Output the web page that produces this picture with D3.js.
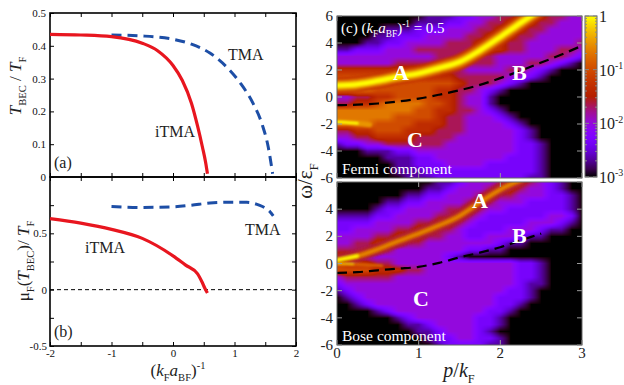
<!DOCTYPE html>
<html>
<head>
<meta charset="utf-8">
<script src="https://cdn.jsdelivr.net/npm/d3@7"></script>
<style>
  body { margin: 0; background: #fff; }
  svg { display: block; }
  text { font-family: "Liberation Serif", "Times New Roman", serif; }
</style>
</head>
<body>
<svg id="fig" width="624" height="385"></svg>
<script>
// ---- left panels: (a) T_BEC/T_F and (b) mu_F(T_BEC)/T_F vs (k_F a_BF)^-1
const itmaA_x = [-2, -1.5, -1, -0.5, -0.25, 0, 0.15, 0.3, 0.4, 0.48, 0.53, 0.56];
const itmaA_y = [0.435, 0.433, 0.428, 0.408, 0.385, 0.34, 0.295, 0.225, 0.155, 0.09, 0.045, 0.01];
const tmaA_x = [-1, -0.5, 0, 0.3, 0.6, 0.9, 1.1, 1.3, 1.45, 1.55, 1.62];
const tmaA_y = [0.433, 0.43, 0.42, 0.405, 0.378, 0.33, 0.285, 0.225, 0.16, 0.09, 0.01];
const itmaB_x = [-2, -1.5, -1, -0.5, 0, 0.2, 0.4, 0.47, 0.52, 0.56];
const itmaB_y = [0.63, 0.59, 0.535, 0.455, 0.3, 0.22, 0.14, 0.07, 0.01, -0.03];
const tmaB_x = [-1, -0.5, 0, 0.3, 0.6, 0.9, 1.2, 1.4, 1.5, 1.58, 1.63];
const tmaB_y = [0.738, 0.73, 0.735, 0.75, 0.77, 0.776, 0.775, 0.75, 0.725, 0.69, 0.655];

const xTicksL = [-2, -1.5, -1, -0.5, 0, 0.5, 1, 1.5, 2];
const xLabelsL = [-2, -1, 0, 1, 2];
const yTicksA = [0, 0.1, 0.2, 0.3, 0.4, 0.5];
const yTicksB = [-0.5, -0.25, 0, 0.25, 0.5, 0.75, 1];
const yLabelsB = [-0.5, 0, 0.5];

// ---- right panels: diffuse spectral weight, rows omega = 6 ... -6, columns p = 0 ... 3
// each digit = log10 intensity in 1/3 decade steps: 0 -> 1e-3, 9 -> 1
const pCols = [0, 0.125, 0.25, 0.375, 0.5, 0.625, 0.75, 0.875, 1, 1.125, 1.25, 1.375, 1.5,
               1.625, 1.75, 1.875, 2, 2.125, 2.25, 2.375, 2.5, 2.625, 2.75, 2.875, 3];
const wRows = [6, 5.5, 5, 4.5, 4, 3.5, 3, 2.5, 2, 1.5, 1, 0.5, 0,
               -0.5, -1, -1.5, -2, -2.5, -3, -3.5, -4, -4.5, -5, -5.5, -6];
const fermiMap = [
  "0000000001112233445554433",
  "0000000011122334455544333",
  "0000011122233344555443333",
  "0000112223333445554433333",
  "0001122333344455544333334",
  "1122233344444455544333443",
  "3333333333444444333334432",
  "3333334444444444333443210",
  "5555555555444333344321000",
  "6666666665554444433210000",
  "6666666666665444321000000",
  "7777666666554432100000000",
  "3344556666554331000000000",
  "4455677776654331000000000",
  "7777777766554432100000000",
  "7777776666544333210000000",
  "7777666655544333321000000",
  "4455666555444333332100000",
  "3344555544443333332100000",
  "1223344444433333332210000",
  "0001112233333333332210000",
  "0000011122333333322210000",
  "0000001122233332222210000",
  "0000001112222222222210000",
  "0000000111222222222110000"
];
const boseMap = [
  "0000000000112333455432100",
  "0000000001123334554332100",
  "0000000112233345443332210",
  "0000011223333454333222210",
  "0000122333344543322222210",
  "1111223333445432222223320",
  "2222333344554322222333210",
  "2233334455443222233321100",
  "3333445554433223332110000",
  "3344555443333333211000000",
  "4444443333333221100000000",
  "5543333333321000000000000",
  "6555443333333333332210000",
  "6666555443333333332210000",
  "3444443333333333332210000",
  "2333333333333333332110000",
  "1233333333333333322100000",
  "0123333333333333222100000",
  "0012333333333333221000000",
  "0000123333333332210000000",
  "0000001233333322100000000",
  "0000000112333322100000000",
  "0000000011233321000000000",
  "0000000001223322100000000",
  "0000000000122221100000000"
];
// sharp branches (ridges) drawn on top of the diffuse maps
const fermiA_p = [0, 0.25, 0.5, 0.75, 1, 1.25, 1.5, 1.75, 2, 2.25, 2.45];
const fermiA_w = [0.85, 0.95, 1.2, 1.5, 1.75, 2.15, 2.6, 3.45, 4.45, 5.5, 6.3];
const fermiStreak_p = [0, 0.12, 0.25, 0.4];
const fermiStreak_w = [-1.85, -1.88, -1.95, -2.05];
const boseA_p = [0, 0.25, 0.5, 0.75, 1, 1.25, 1.5, 1.75, 2, 2.25];
const boseA_w = [0.25, 0.55, 1.05, 1.65, 2.2, 2.8, 3.5, 4.5, 5.45, 6.15];
const boseLow_p = [0, 0.2, 0.4, 0.55];
const boseLow_w = [-0.02, -0.06, -0.12, -0.16];
const fermiDashP = [0, 0.25, 0.5, 0.75, 1, 1.25, 1.5, 1.75, 2, 2.25, 2.5, 2.75, 3];
const fermiDashW = [-0.6, -0.57, -0.48, -0.33, -0.12, 0.17, 0.5, 0.9, 1.4, 1.95, 2.55, 3.15, 3.8];
const boseDashP = [0, 0.25, 0.5, 0.75, 1, 1.25, 1.5, 1.75, 2, 2.25, 2.5];
const boseDashW = [-0.7, -0.64, -0.5, -0.38, -0.25, 0.05, 0.45, 0.8, 1.2, 1.7, 2.2];

const pTicks = [0, 1, 2, 3];
const wTicks = [-6, -4, -2, 0, 2, 4, 6];
const cbTicks = [1e-3, 1e-2, 1e-1, 1];

const RED = '#e8161f', BLUE = '#1d4ea6';
const svg = d3.select('#fig');
const defs = svg.append('defs');
defs.append('filter').attr('id', 'soft').attr('x', '-20%').attr('y', '-20%')
  .attr('width', '140%').attr('height', '140%')
  .append('feGaussianBlur').attr('stdDeviation', 1.3);

// rich text: parts of {t, i (italic), s: 'sub'|'sup'}
function rich(sel, parts, size) {
  let prev = 0;
  parts.forEach(p => {
    const off = p.s === 'sub' ? 0.28 : p.s === 'sup' ? -0.42 : 0;
    const t = sel.append('tspan').text(p.t)
      .attr('dy', ((off - prev) * size).toFixed(2))
      .attr('font-size', p.s ? size * 0.62 : size);
    if (p.i) t.attr('font-style', 'italic');
    prev = off;
  });
  return sel;
}

// ================= left panels
const xL = d3.scaleLinear().domain([-2, 2]).range([50, 296]);
const yA = d3.scaleLinear().domain([0, 0.5]).range([177, 13]);
const yB = d3.scaleLinear().domain([-0.5, 1]).range([346, 177]);
const num = d => String(+d.toFixed(2));

function leftPanel(y, yTicks, yLabels, showX) {
  const g = svg.append('g');
  const [b, t] = y.range();
  const tick = 4;
  g.append('g').attr('transform', `translate(0,${b})`)
    .call(d3.axisBottom(xL).tickValues(xTicksL).tickSize(-tick).tickSizeOuter(0)
      .tickFormat(d => showX && xLabelsL.includes(d) ? num(d) : ''));
  g.append('g').attr('transform', `translate(0,${t})`)
    .call(d3.axisTop(xL).tickValues(xTicksL).tickSize(-tick).tickSizeOuter(0).tickFormat(''));
  g.append('g').attr('transform', `translate(${xL.range()[0]},0)`)
    .call(d3.axisLeft(y).tickValues(yTicks).tickSize(-tick).tickSizeOuter(0)
      .tickFormat(d => yLabels.includes(d) ? num(d) : ''));
  g.append('g').attr('transform', `translate(${xL.range()[1]},0)`)
    .call(d3.axisRight(y).tickValues(yTicks).tickSize(-tick).tickSizeOuter(0).tickFormat(''));
  g.selectAll('.domain').remove();
  g.selectAll('.tick line').attr('stroke', '#000').attr('stroke-width', 1);
  g.selectAll('.tick text').attr('font-family', '"Liberation Serif", serif')
    .attr('font-size', 11).attr('fill', '#111');
  g.append('rect').attr('x', xL.range()[0]).attr('y', t)
    .attr('width', xL.range()[1] - xL.range()[0]).attr('height', b - t)
    .attr('fill', 'none').attr('stroke', '#000').attr('stroke-width', 1.6);
  return g;
}

const gA = leftPanel(yA, yTicksA, yTicksA, false);
gA.selectAll('.tick text').attr('dx', -1);
const gB = leftPanel(yB, yTicksB, yLabelsB, true);

const lineA = d3.line().x(d => xL(d[0])).y(d => yA(d[1])).curve(d3.curveMonotoneX);
const lineB = d3.line().x(d => xL(d[0])).y(d => yB(d[1])).curve(d3.curveMonotoneX);

gB.append('line').attr('x1', xL(-2)).attr('x2', xL(2)).attr('y1', yB(0)).attr('y2', yB(0))
  .attr('stroke', '#000').attr('stroke-width', 1).attr('stroke-dasharray', '4,3');

gA.append('path').datum(d3.zip(tmaA_x, tmaA_y)).attr('d', lineA).attr('fill', 'none')
  .attr('stroke', BLUE).attr('stroke-width', 3).attr('stroke-dasharray', '10,6');
gA.append('path').datum(d3.zip(itmaA_x, itmaA_y)).attr('d', lineA).attr('fill', 'none')
  .attr('stroke', RED).attr('stroke-width', 3.2);
gB.append('path').datum(d3.zip(tmaB_x, tmaB_y)).attr('d', lineB).attr('fill', 'none')
  .attr('stroke', BLUE).attr('stroke-width', 3).attr('stroke-dasharray', '10,6');
gB.append('path').datum(d3.zip(itmaB_x, itmaB_y)).attr('d', lineB).attr('fill', 'none')
  .attr('stroke', RED).attr('stroke-width', 3.2);

function label(x, y, s, size, opts = {}) {
  return svg.append('text').attr('x', x).attr('y', y).attr('font-size', size)
    .attr('fill', opts.fill || '#222').attr('font-weight', opts.bold ? 'bold' : null)
    .attr('text-anchor', opts.anchor || 'start').text(s);
}
label(228, 60, 'TMA', 16);
label(155, 137, 'iTMA', 16);
label(54, 168, '(a)', 16);
label(85, 253, 'iTMA', 16);
label(245, 235, 'TMA', 16);
label(54, 337, '(b)', 16);

rich(svg.append('text').attr('transform', 'translate(21,86) rotate(-90)')
  .attr('text-anchor', 'middle').attr('fill', '#222'),
  [{t: 'T', i: 1}, {t: 'BEC', s: 'sub'}, {t: ' / '}, {t: 'T', i: 1}, {t: 'F', s: 'sub'}], 17);
rich(svg.append('text').attr('transform', 'translate(29,261) rotate(-90)')
  .attr('text-anchor', 'middle').attr('fill', '#222'),
  [{t: 'μ'}, {t: 'F', s: 'sub'}, {t: '('}, {t: 'T', i: 1}, {t: 'BEC', s: 'sub'}, {t: ')/ '},
   {t: 'T', i: 1}, {t: 'F', s: 'sub'}], 17);
rich(svg.append('text').attr('x', 178).attr('y', 376).attr('text-anchor', 'middle').attr('fill', '#222'),
  [{t: '('}, {t: 'k', i: 1}, {t: 'F', s: 'sub'}, {t: 'a', i: 1}, {t: 'BF', s: 'sub'}, {t: ')'},
   {t: '-1', s: 'sup'}], 17);

// ================= right panels (heat maps)
const xR = d3.scaleLinear().domain([0, 3]).range([337, 582]);
const yTop = d3.scaleLinear().domain([-6, 6]).range([178, 16]);
const yBot = d3.scaleLinear().domain([-6, 6]).range([345, 182]);

// gnuplot default palette (rgbformulae 7,5,15)
function gnu(t) {
  return [Math.sqrt(t) * 255, Math.pow(t, 3) * 255, Math.max(0, Math.sin(2 * Math.PI * t)) * 255];
}
const colorScale = d3.scaleSequentialLog(gnu).domain([1e-3, 1]).clamp(true);
const levelToValue = L => Math.pow(10, -3 + L / 3);
const levelColor = L => { const c = colorScale(levelToValue(L)); return d3.rgb(c[0], c[1], c[2]).formatHex(); };

let clipId = 0;
function heatPanel(rows, y, ridges, dashP, dashW) {
  const g = svg.append('g');
  const grid = rows.map(r => r.split('').map(Number));
  const nR = wRows.length, nC = pCols.length;
  const ci = d3.scaleLinear().domain([pCols[0], pCols[nC - 1]]).range([0, nC - 1]).clamp(true);
  const ri = d3.scaleLinear().domain([wRows[0], wRows[nR - 1]]).range([0, nR - 1]).clamp(true);
  const [x0, x1] = xR.range();
  const [y1, y0] = y.range();
  const W = Math.round(x1 - x0), H = Math.round(y1 - y0);
  const cv = document.createElement('canvas');
  cv.width = W; cv.height = H;
  const ctx = cv.getContext('2d');
  const img = ctx.createImageData(W, H);
  const at = (r, c) => (grid[r] && grid[r][c] !== undefined) ? grid[r][c] : 0;
  for (let py = 0; py < H; py++) {
    const fr = ri(y.invert(y0 + py + 0.5));
    const r0 = Math.floor(fr), r1 = Math.min(r0 + 1, nR - 1), tr = fr - r0;
    for (let px = 0; px < W; px++) {
      const fc = ci(xR.invert(x0 + px + 0.5));
      const c0 = Math.floor(fc), c1 = Math.min(c0 + 1, nC - 1), tc = fc - c0;
      const L = (at(r0, c0) * (1 - tc) + at(r0, c1) * tc) * (1 - tr) +
                (at(r1, c0) * (1 - tc) + at(r1, c1) * tc) * tr;
      const col = colorScale(levelToValue(L));
      const k = (py * W + px) * 4;
      img.data[k] = col[0]; img.data[k + 1] = col[1]; img.data[k + 2] = col[2]; img.data[k + 3] = 255;
    }
  }
  ctx.putImageData(img, 0, 0);
  const id = 'clip' + (clipId++);
  g.append('clipPath').attr('id', id).append('rect')
    .attr('x', x0).attr('y', y0).attr('width', W).attr('height', H);
  g.append('image').attr('x', x0).attr('y', y0).attr('width', W).attr('height', H)
    .attr('preserveAspectRatio', 'none').attr('href', cv.toDataURL());

  const curve = d3.line().x(d => xR(d[0])).y(d => y(d[1])).curve(d3.curveMonotoneX);
  const rg = g.append('g').attr('clip-path', `url(#${id})`);
  const soft = rg.append('g').attr('filter', 'url(#soft)');
  ridges.forEach(r => {
    r.layers.forEach(l => {
      const pts = d3.zip(r.p, r.w).slice(0, l.n || r.p.length);
      soft.append('path').datum(pts).attr('d', curve).attr('fill', 'none')
        .attr('stroke', levelColor(l.L)).attr('stroke-width', l.w)
        .attr('stroke-linecap', 'round').attr('stroke-opacity', l.o || 1);
    });
  });
  rg.append('path').datum(d3.zip(dashP, dashW)).attr('d', curve)
    .attr('fill', 'none').attr('stroke', '#000').attr('stroke-width', 2.2)
    .attr('stroke-dasharray', '10,6');

  // inward ticks
  const tk = 5;
  const ticks = g.append('g').attr('stroke', '#9a9a9a').attr('stroke-width', 1);
  pTicks.forEach(p => {
    ticks.append('line').attr('x1', xR(p)).attr('x2', xR(p)).attr('y1', y1).attr('y2', y1 - tk);
    ticks.append('line').attr('x1', xR(p)).attr('x2', xR(p)).attr('y1', y0).attr('y2', y0 + tk);
  });
  wTicks.forEach(w => {
    ticks.append('line').attr('x1', x0).attr('x2', x0 + tk).attr('y1', y(w)).attr('y2', y(w));
    ticks.append('line').attr('x1', x1).attr('x2', x1 - tk).attr('y1', y(w)).attr('y2', y(w));
  });
  g.append('rect').attr('x', x0).attr('y', y0).attr('width', W).attr('height', H)
    .attr('fill', 'none').attr('stroke', '#666').attr('stroke-width', 1);
  return g;
}

heatPanel(fermiMap, yTop, [
  {p: fermiA_p, w: fermiA_w, layers: [{L: 5.3, w: 16}, {L: 6.8, w: 11}, {L: 8, w: 7}, {L: 9, w: 4}]},
  {p: fermiStreak_p, w: fermiStreak_w, layers: [{L: 7.5, w: 5}, {L: 9, w: 2.5, n: 3}]}
], fermiDashP, fermiDashW);
heatPanel(boseMap, yBot, [
  {p: boseA_p, w: boseA_w, layers: [{L: 4.2, w: 12}, {L: 5.5, w: 7}, {L: 7.2, w: 3.5}, {L: 9, w: 3, n: 2}]},
  {p: boseLow_p, w: boseLow_w, layers: [{L: 6.5, w: 3}, {L: 8.5, w: 1.5, n: 2}]}
], boseDashP, boseDashW);

// tick labels
wTicks.forEach(w => {
  label(333, yTop(w) + 5, String(w), 15, {anchor: 'end'});
  if (w < 6) label(333, yBot(w) + 5, String(w), 15, {anchor: 'end'});
});
pTicks.forEach(p => label(xR(p), 358, String(p), 15, {anchor: 'middle'}));

rich(svg.append('text').attr('x', 459).attr('y', 377).attr('text-anchor', 'middle').attr('fill', '#222'),
  [{t: 'p', i: 1}, {t: '/'}, {t: 'k', i: 1}, {t: 'F', s: 'sub'}], 20);
rich(svg.append('text').attr('transform', 'translate(312,181) rotate(-90)')
  .attr('text-anchor', 'middle').attr('fill', '#222'),
  [{t: 'ω/ε'}, {t: 'F', s: 'sub'}], 21);

// in-panel labels
rich(svg.append('text').attr('x', 341).attr('y', 33).attr('fill', '#fff'),
  [{t: '(c) ('}, {t: 'k', i: 1}, {t: 'F', s: 'sub'}, {t: 'a', i: 1}, {t: 'BF', s: 'sub'}, {t: ')'},
   {t: '-1', s: 'sup'}, {t: ' = 0.5'}], 15);
label(393, 80, 'A', 22, {fill: '#fff', bold: true});
label(512, 80, 'B', 22, {fill: '#fff', bold: true});
label(407, 147, 'C', 22, {fill: '#fff', bold: true});
label(342, 174, 'Fermi component', 15.5, {fill: '#fff'});
label(472, 208, 'A', 22, {fill: '#fff', bold: true});
label(512, 243, 'B', 22, {fill: '#fff', bold: true});
label(413, 306, 'C', 22, {fill: '#fff', bold: true});
label(342, 341, 'Bose component', 15.5, {fill: '#fff'});

// ================= colour bar
const cbX = 585, cbW = 12;
const yCb = d3.scaleLog().domain([1e-3, 1]).range([177, 16]);
const grad = defs.append('linearGradient').attr('id', 'cbgrad')
  .attr('x1', 0).attr('y1', 1).attr('x2', 0).attr('y2', 0);
d3.range(0, 1.0001, 0.05).forEach(t => {
  const c = gnu(t);
  grad.append('stop').attr('offset', t).attr('stop-color', d3.rgb(c[0], c[1], c[2]).formatHex());
});
svg.append('rect').attr('x', cbX).attr('y', 16).attr('width', cbW).attr('height', 161)
  .attr('fill', 'url(#cbgrad)').attr('stroke', '#666').attr('stroke-width', 1);
const cbMinor = [];
cbTicks.slice(0, -1).forEach(d => [2, 3, 4, 5, 6, 7, 8, 9].forEach(m => cbMinor.push(d * m)));
cbMinor.forEach(v => {
  svg.append('line').attr('x1', cbX).attr('x2', cbX + 2).attr('y1', yCb(v)).attr('y2', yCb(v)).attr('stroke', '#888');
  svg.append('line').attr('x1', cbX + cbW).attr('x2', cbX + cbW - 2).attr('y1', yCb(v)).attr('y2', yCb(v)).attr('stroke', '#888');
});
cbTicks.forEach(v => {
  svg.append('line').attr('x1', cbX).attr('x2', cbX + 4).attr('y1', yCb(v)).attr('y2', yCb(v)).attr('stroke', '#888');
  svg.append('line').attr('x1', cbX + cbW).attr('x2', cbX + cbW - 4).attr('y1', yCb(v)).attr('y2', yCb(v)).attr('stroke', '#888');
  const t = svg.append('text').attr('x', 599).attr('y', yCb(v) + 6).attr('fill', '#222');
  const e = Math.round(Math.log10(v));
  if (e === 0) rich(t, [{t: '1'}], 16);
  else rich(t, [{t: '10'}, {t: String(e), s: 'sup'}], 16);
});
</script>
</body>
</html>
